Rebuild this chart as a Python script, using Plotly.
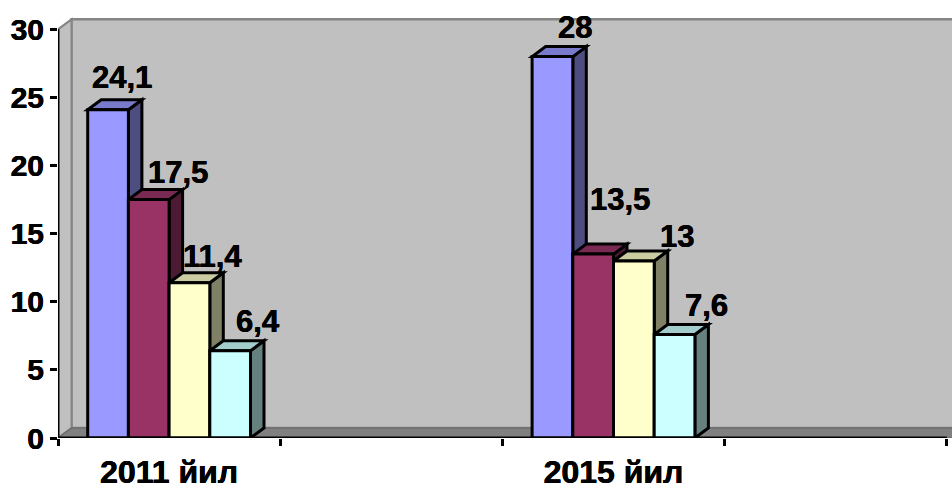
import plotly.graph_objects as go

categories = ["2011 йил", "2015 йил"]
series_a = [24.1, 28]
series_b = [17.5, 13.5]
series_c = [11.4, 13]
series_d = [6.4, 7.6]
label_a = ["24,1", "28"]
label_b = ["17,5", "13,5"]
label_c = ["11,4", "13"]
label_d = ["6,4", "7,6"]
y_ticks = [0, 5, 10, 15, 20, 25, 30]

all_series = [series_a, series_b, series_c, series_d]
all_labels = [label_a, label_b, label_c, label_d]
front = ["#9999FF", "#993366", "#FFFFCC", "#CCFFFF"]
top = ["#7A7ACC", "#7A2952", "#CCCCA3", "#A3CCCC"]
side = ["#4D4D80", "#4D1A33", "#808066", "#668080"]
# per-label pixel shifts from the centre of each bar's top edge
shifts = [
    [(14, 32), (23, 29)],
    [(29, 27), (27, 55)],
    [(23, 26), (43, 24)],
    [(28, 29), (32, 29)],
]

PX_X, PX_Y = 222.2, 13.63
LEFT, BASE = 58, 438.5
X_MAX = (952 - LEFT) / PX_X
Y_MAX = 31.2
DX, DY = 13.5 / PX_X, 10 / PX_Y
BAR_W = 40.7 / PX_X
centers = [0.5, 2.5]
BASEFONT = dict(family="Liberation Sans, Arial, sans-serif", color="black", weight="bold",
                shadow="0.3px 0 0 black, -0.3px 0 0 black")
WALL, FLOOR, EDGE = "#C0C0C0", "#808080", "#858585"


def poly(points, fill, line="black", width=3):
    path = "M " + " L ".join(f"{x},{y}" for x, y in points) + " Z"
    return dict(type="path", xref="x", yref="y", path=path, fillcolor=fill,
                line=dict(color=line, width=width), layer="below")


shapes = [
    poly([(DX, DY), (X_MAX + 1, DY), (X_MAX + 1, 30 + DY), (DX, 30 + DY)], WALL, EDGE, 2.5),
    poly([(0, 0), (DX, DY), (DX, 30 + DY), (0, 30)], WALL, EDGE, 2),
    poly([(0, 0), (X_MAX + 1, 0), (X_MAX + 1, DY), (DX, DY)], FLOOR, "#6E6E6E", 1.5),
]
annotations = []
for s, values in enumerate(all_series):
    for c, value in enumerate(values):
        x0 = centers[c] + (s - 2) * BAR_W
        x1 = x0 + BAR_W
        shapes.append(poly([(x1, 0), (x1 + DX, DY), (x1 + DX, value + DY), (x1, value)], side[s]))
        shapes.append(poly([(x0, value), (x0 + DX, value + DY), (x1 + DX, value + DY), (x1, value)], top[s]))
        annotations.append(dict(x=(x0 + x1) / 2, y=value, xref="x", yref="y", text=all_labels[s][c],
                                showarrow=False, xshift=shifts[s][c][0], yshift=shifts[s][c][1],
                                font=dict(size=31, **BASEFONT)))

fig = go.Figure()
for s, values in enumerate(all_series):
    fig.add_trace(go.Bar(x=centers, y=values, offsetgroup=s, marker=dict(color=front[s], line=dict(color="black", width=3)),
                         showlegend=False))
fig.add_trace(go.Scatter(x=[0, 0, 4], y=[30, 0, 0], mode="lines", line=dict(color="black", width=3),
                         cliponaxis=False, showlegend=False))

fig.update_layout(
    width=952, height=486, autosize=False,
    margin=dict(l=LEFT, r=0, t=BASE - Y_MAX * PX_Y, b=486 - BASE, pad=0, autoexpand=False),
    paper_bgcolor="white", plot_bgcolor="white",
    barmode="group", bargap=1 - 4 * BAR_W / 2, bargroupgap=0,
    shapes=shapes, annotations=annotations, showlegend=False,
    xaxis=dict(range=[0, X_MAX], tickmode="array", tickvals=centers, ticktext=categories, ticks="", automargin=False,
               tickfont=dict(size=32, **BASEFONT), showgrid=False, zeroline=False, showline=False, ticklabelstandoff=12,
               minor=dict(tickmode="array", tickvals=[0, 1, 2, 3, 4], ticks="outside", ticklen=7, tickwidth=2.5,
                          tickcolor="black", showgrid=False)),
    yaxis=dict(range=[0, Y_MAX], tickmode="array", tickvals=y_ticks, ticks="outside", ticklen=7, tickwidth=2.5, automargin=False,
               tickcolor="black", tickfont=dict(size=30, **BASEFONT), showgrid=False, zeroline=False, showline=False),
)
fig.write_html("out.html", config={"displayModeBar": False},
               post_script="document.body.style.margin='0';document.documentElement.style.overflow='hidden';")
